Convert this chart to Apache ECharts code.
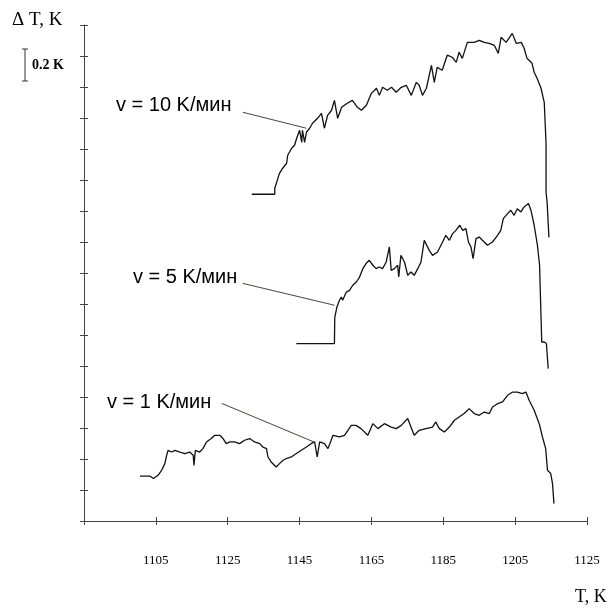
<!DOCTYPE html>
<html>
<head>
<meta charset="utf-8">
<script src="https://cdn.jsdelivr.net/npm/echarts@6/dist/echarts.min.js"></script>
<style>
  html, body { margin: 0; padding: 0; background: #fff; }
  #chart { width: 610px; height: 608px; }
</style>
</head>
<body>
<div id="chart"></div>
<script>
// T, K  and  ΔT, K (curves shifted vertically, one tick = 0.2 K)
var xTicks = [1085, 1105, 1125, 1145, 1165, 1185, 1205, 1225];

// v = 10 K/min
var t10 = [1131.7, 1138.1, 1138.1, 1139.4, 1140.3, 1141.4, 1141.7, 1142.8, 1143.6, 1144.2,
  1145.0, 1145.6, 1145.8, 1146.4, 1146.9, 1147.8, 1148.6, 1150.0, 1151.1, 1151.9,
  1152.8, 1153.9, 1154.7, 1155.6, 1156.7, 1158.3, 1159.7, 1161.1, 1162.2, 1163.6,
  1164.4, 1165.0, 1166.4, 1167.2, 1168.1, 1169.4, 1170.6, 1171.9, 1173.3, 1174.7,
  1176.1, 1177.5, 1178.3, 1179.2, 1180.3, 1181.7, 1182.5, 1183.3, 1184.7, 1186.1,
  1187.5, 1188.6, 1189.4, 1190.3, 1191.7, 1193.6, 1195.0, 1196.4, 1197.8, 1199.2,
  1200.3, 1201.1, 1202.5, 1204.2, 1205.3, 1206.7, 1207.5, 1208.3, 1209.7, 1210.3,
  1211.1, 1212.2, 1213.1, 1213.6, 1213.6, 1213.9, 1214.4];
var dT10 = [2.108, 2.108, 2.147, 2.243, 2.276, 2.308, 2.36, 2.405, 2.424, 2.469,
  2.521, 2.443, 2.521, 2.443, 2.508, 2.534, 2.566, 2.598, 2.63, 2.534,
  2.617, 2.65, 2.714, 2.598, 2.669, 2.695, 2.714, 2.669, 2.65, 2.682,
  2.727, 2.759, 2.792, 2.746, 2.798, 2.779, 2.798, 2.766, 2.798, 2.811,
  2.746, 2.83, 2.811, 2.746, 2.792, 2.94, 2.83, 2.927, 2.908, 3.005,
  2.992, 2.959, 3.024, 2.985, 3.088, 3.088, 3.101, 3.088, 3.082, 3.069,
  3.017, 3.121, 3.088, 3.146, 3.082, 3.088, 3.05, 2.985, 2.953, 2.895,
  2.856, 2.792, 2.701, 2.437, 2.121, 2.056, 1.83];

// v = 5 K/min
var t5 = [1144.1, 1154.7, 1154.8, 1155.4, 1156.1, 1156.6, 1157.0, 1158.0, 1158.9, 1159.8,
  1160.8, 1161.7, 1162.6, 1163.5, 1164.4, 1165.4, 1166.3, 1167.2, 1168.1, 1169.1,
  1170.0, 1170.5, 1171.4, 1172.3, 1172.6, 1173.2, 1174.2, 1175.1, 1176.0, 1176.9,
  1177.9, 1178.8, 1179.7, 1181.1, 1182.0, 1183.4, 1184.8, 1185.7, 1186.7, 1187.6,
  1188.5, 1189.6, 1190.4, 1191.3, 1192.0, 1192.7, 1193.3, 1194.1, 1195.0, 1195.9,
  1197.3, 1198.7, 1200.1, 1201.0, 1201.7, 1202.9, 1203.8, 1204.7, 1205.6, 1206.6,
  1207.5, 1208.7, 1209.4, 1210.3, 1211.2, 1211.8, 1212.4, 1213.1, 1213.7, 1214.2];
var dT5 = [1.145, 1.145, 1.314, 1.381, 1.424, 1.445, 1.424, 1.477, 1.488, 1.521,
  1.542, 1.574, 1.628, 1.661, 1.682, 1.65, 1.628, 1.639, 1.628, 1.671,
  1.768, 1.617, 1.628, 1.65, 1.574, 1.714, 1.671, 1.585, 1.606, 1.585,
  1.628, 1.671, 1.811, 1.746, 1.714, 1.735, 1.8, 1.843, 1.811, 1.854,
  1.875, 1.908, 1.875, 1.886, 1.8, 1.768, 1.693, 1.822, 1.832, 1.811,
  1.779, 1.8, 1.843, 1.875, 1.951, 1.983, 2.005, 1.972, 2.015, 1.994,
  2.026, 2.048, 2.005, 1.908, 1.779, 1.65, 1.155, 1.155, 1.145, 0.983];

// v = 1 K/min
var t1 = [1100.6, 1103.3, 1104.3, 1105.6, 1106.6, 1107.5, 1108.0, 1108.4, 1109.4, 1110.3,
  1111.7, 1113.1, 1114.4, 1115.4, 1115.6, 1116.0, 1117.2, 1118.1, 1119.1, 1120.4,
  1121.4, 1122.8, 1123.7, 1124.6, 1125.6, 1126.9, 1128.3, 1129.7, 1131.1, 1132.5,
  1133.9, 1134.8, 1135.8, 1136.2, 1137.1, 1138.5, 1139.4, 1140.4, 1141.3, 1142.7,
  1144.1, 1145.5, 1146.9, 1148.2, 1149.2, 1149.9, 1150.6, 1151.9, 1152.9, 1153.8,
  1154.3, 1156.1, 1157.5, 1159.4, 1160.7, 1162.1, 1164.0, 1165.4, 1166.8, 1168.6,
  1170.5, 1171.9, 1173.3, 1175.1, 1176.0, 1176.9, 1178.3, 1180.2, 1182.0, 1182.9,
  1183.9, 1185.3, 1186.7, 1188.1, 1189.4, 1190.8, 1192.2, 1193.6, 1195.0, 1196.4,
  1197.8, 1198.7, 1200.1, 1201.5, 1202.9, 1204.3, 1205.6, 1207.0, 1208.0, 1208.9,
  1210.3, 1211.7, 1212.6, 1213.5, 1214.0, 1214.9, 1215.4, 1215.8];
var dT1 = [0.29, 0.29, 0.274, 0.295, 0.327, 0.37, 0.424, 0.456, 0.445, 0.456,
  0.445, 0.435, 0.445, 0.424, 0.359, 0.456, 0.445, 0.467, 0.51, 0.532,
  0.553, 0.553, 0.532, 0.499, 0.51, 0.51, 0.499, 0.521, 0.532, 0.51,
  0.499, 0.477, 0.467, 0.413, 0.381, 0.348, 0.37, 0.392, 0.403, 0.413,
  0.435, 0.456, 0.477, 0.499, 0.51, 0.413, 0.51, 0.499, 0.467, 0.521,
  0.553, 0.542, 0.553, 0.617, 0.617, 0.596, 0.553, 0.628, 0.596, 0.628,
  0.606, 0.596, 0.617, 0.661, 0.606, 0.553, 0.585, 0.596, 0.606, 0.639,
  0.596, 0.574, 0.606, 0.65, 0.671, 0.693, 0.725, 0.693, 0.682, 0.703,
  0.693, 0.735, 0.757, 0.768, 0.811, 0.832, 0.832, 0.822, 0.832, 0.779,
  0.714, 0.628, 0.542, 0.467, 0.327, 0.306, 0.241, 0.112];

// leader lines: [label end, curve point] in data coords
var lead10 = [[1129.2, 2.637], [1146.9, 2.534]];
var lead5 = [[1129.2, 1.533], [1154.7, 1.392]];
var lead1 = [[1123.3, 0.759], [1149.2, 0.508]];

function zip(a, b) {
  var out = [];
  for (var i = 0; i < a.length; i++) out.push([a[i], b[i]]);
  return out;
}

function leader(p) {
  return {
    silent: true,
    symbol: 'none',
    label: { show: false },
    lineStyle: { color: '#3c4a3c', width: 1, type: 'solid' },
    data: [[{ coord: p[0] }, { coord: p[1] }]]
  };
}

var axisColor = '#444';
var serif = '"Liberation Serif", "DejaVu Serif", serif';
var sans = '"Liberation Sans", Arial, sans-serif';

// ticks cross the axis line: one axis draws line + labels, a second one
// (shifted 4px inward) draws only 8px ticks
function xAx(tickOnly) {
  return {
    type: 'value',
    position: 'bottom',
    offset: tickOnly ? -4 : 0,
    min: xTicks[0],
    max: xTicks[xTicks.length - 1],
    interval: 20,
    axisLine: { show: !tickOnly, onZero: false, lineStyle: { color: axisColor, width: 1 } },
    axisTick: { show: tickOnly, length: 8, lineStyle: { color: axisColor } },
    splitLine: { show: false },
    axisLabel: {
      show: !tickOnly,
      margin: 33,
      color: '#000',
      fontFamily: serif,
      fontSize: 13,
      formatter: function (v) {
        if (v === 1085) return '';
        if (v === 1225) return '1125';
        return String(v);
      }
    }
  };
}

function yAx(tickOnly) {
  return {
    type: 'value',
    position: 'left',
    offset: tickOnly ? -4 : 0,
    min: 0,
    max: 3.2,
    interval: 0.2,
    axisLine: { show: !tickOnly, onZero: false, lineStyle: { color: axisColor, width: 1 } },
    axisTick: { show: tickOnly, length: 8, lineStyle: { color: axisColor } },
    axisLabel: { show: false },
    splitLine: { show: false }
  };
}

var chart = echarts.init(document.getElementById('chart'));

var option = {
  animation: false,
  backgroundColor: '#fff',
  grid: { left: 84, right: 23, top: 25, bottom: 87 },
  xAxis: [xAx(false), xAx(true)],
  yAxis: [yAx(false), yAx(true)],
  series: [
    {
      name: 'v = 10 K/мин',
      type: 'line',
      data: zip(t10, dT10),
      showSymbol: false,
      lineStyle: { color: '#111', width: 1.3 },
      markLine: leader(lead10)
    },
    {
      name: 'v = 5 K/мин',
      type: 'line',
      data: zip(t5, dT5),
      showSymbol: false,
      lineStyle: { color: '#111', width: 1.3 },
      markLine: leader(lead5)
    },
    {
      name: 'v = 1 K/мин',
      type: 'line',
      data: zip(t1, dT1),
      showSymbol: false,
      lineStyle: { color: '#111', width: 1.3 },
      markLine: leader(lead1)
    }
  ],
  graphic: [
    { type: 'text', x: 12, y: 20, style: { text: 'Δ T, K', font: '19px ' + serif, fill: '#000', verticalAlign: 'middle' } },
    { type: 'text', x: 575, y: 597, style: { text: 'T, K', font: '18px ' + serif, fill: '#000', verticalAlign: 'middle' } },
    { type: 'text', x: 32, y: 65, style: { text: '0.2 K', font: 'bold 14px ' + serif, fill: '#000', verticalAlign: 'middle' } },
    { type: 'line', shape: { x1: 25, y1: 49, x2: 25, y2: 81 }, style: { stroke: '#333', lineWidth: 1 } },
    { type: 'line', shape: { x1: 22, y1: 49, x2: 28, y2: 49 }, style: { stroke: '#333', lineWidth: 1 } },
    { type: 'line', shape: { x1: 22, y1: 81, x2: 28, y2: 81 }, style: { stroke: '#333', lineWidth: 1 } },
    { type: 'text', x: 116, y: 105, style: { text: 'v = 10 K/мин', font: '20px ' + sans, fill: '#000', verticalAlign: 'middle' } },
    { type: 'text', x: 133, y: 277, style: { text: 'v = 5 K/мин', font: '20px ' + sans, fill: '#000', verticalAlign: 'middle' } },
    { type: 'text', x: 107, y: 402, style: { text: 'v = 1 K/мин', font: '20px ' + sans, fill: '#000', verticalAlign: 'middle' } }
  ]
};

chart.setOption(option);
</script>
</body>
</html>
